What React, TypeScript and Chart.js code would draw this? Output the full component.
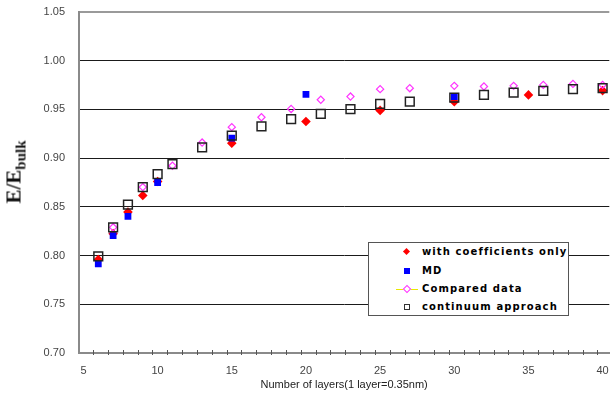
import React, { useEffect, useRef } from 'react';
import { Chart, registerables } from 'chart.js';

Chart.register(...registerables);

// ---- data ----
const coefLayers = [6, 7, 8, 9, 10, 15, 20, 25, 30, 35, 40];
const coefValues = [0.796, 0.8225, 0.8447, 0.8617, 0.8761, 0.9154, 0.9376, 0.949, 0.958, 0.9649, 0.9693];

const mdLayers = [6, 7, 8, 10, 15, 20, 30];
const mdValues = [0.7914, 0.8204, 0.8402, 0.875, 0.9205, 0.9655, 0.9632];

const comparedLayers = [7, 9, 11, 13, 15, 17, 19, 21, 23, 25, 27, 30, 32, 34, 36, 38, 40];
const comparedValues = [0.829, 0.8703, 0.8922, 0.916, 0.9318, 0.942, 0.9505, 0.9599, 0.9632, 0.9708, 0.9718, 0.9742, 0.9735, 0.9742, 0.9752, 0.9762, 0.9752];

const continuumLayers = [6, 7, 8, 9, 10, 11, 13, 15, 17, 19, 21, 23, 25, 27, 30, 32, 34, 36, 38, 40];
const continuumValues = [0.7992, 0.8289, 0.8522, 0.8703, 0.8837, 0.8939, 0.911, 0.9232, 0.9325, 0.940, 0.9455, 0.9503, 0.9557, 0.9581, 0.962, 0.9649, 0.9673, 0.969, 0.9708, 0.9718];

const seriesNames = ['with coefficients only', 'MD', 'Compared data', 'continuum approach'];
const xTitle = 'Number of layers(1 layer=0.35nm)';
const yMin = 0.7;
const yMax = 1.05;
const yStep = 0.05;
const xMin = 4.7;
const xMax = 40.45;
const xStep = 5;

const toPoints = (xs: number[], ys: number[]) => xs.map((x, i) => ({ x, y: ys[i] }));

const minorTicks = {
  id: 'minorTicks',
  afterDraw(chart: any) {
    const xs = chart.scales.x;
    const ctx = chart.ctx;
    const bottom = chart.chartArea.bottom;
    ctx.save();
    ctx.strokeStyle = '#555';
    ctx.lineWidth = 1;
    for (let v = Math.ceil(xs.min) + 0.65; v < xs.max; v += 1) {
      const px = Math.round(xs.getPixelForValue(v)) + 0.5;
      ctx.beginPath();
      ctx.moveTo(px, bottom - 3);
      ctx.lineTo(px, bottom + 2);
      ctx.stroke();
    }
    ctx.restore();
  },
};

export default function App() {
  const ref = useRef<HTMLCanvasElement>(null);

  useEffect(() => {
    document.body.style.margin = '0';
    const chart = new Chart(ref.current!, {
      type: 'scatter',
      data: {
        datasets: [
          {
            label: seriesNames[0],
            data: toPoints(coefLayers, coefValues),
            pointStyle: 'rectRot',
            pointRadius: 4.8,
            backgroundColor: '#ff0000',
            borderColor: '#ff0000',
            borderWidth: 0,
            order: 4,
          },
          {
            label: seriesNames[1],
            data: toPoints(mdLayers, mdValues),
            pointStyle: 'rect',
            pointRadius: 4.8,
            backgroundColor: '#0000ff',
            borderColor: '#0000ff',
            borderWidth: 0,
            order: 3,
          },
          {
            label: seriesNames[2],
            data: toPoints(comparedLayers, comparedValues),
            pointStyle: 'rectRot',
            pointRadius: 3.6,
            backgroundColor: 'rgba(255,255,255,0)',
            borderColor: '#ff33ff',
            borderWidth: 1.2,
            order: 2,
          },
          {
            label: seriesNames[3],
            data: toPoints(continuumLayers, continuumValues),
            pointStyle: 'rect',
            pointRadius: 6.2,
            backgroundColor: 'rgba(255,255,255,0)',
            borderColor: '#222222',
            borderWidth: 1.5,
            order: 1,
          },
        ],
      },
      options: {
        responsive: false,
        animation: false,
        layout: { padding: { top: 12, right: 0, left: 0, bottom: 0 } },
        plugins: { legend: { display: false }, tooltip: { enabled: false } },
        scales: {
          x: {
            type: 'linear',
            min: xMin,
            max: xMax,
            afterFit: (s: any) => {
              s.height = 45;
              s.paddingLeft = 0;
              s.paddingRight = 0;
            },
            ticks: {
              stepSize: xStep,
              includeBounds: false,
              color: '#444',
              font: { family: 'Liberation Sans', size: 11 },
              padding: 11,
              maxRotation: 0,
            },
            grid: { display: false, drawTicks: false },
            border: { display: true, color: '#8a8a8a', width: 2 },
            title: {
              display: true,
              text: xTitle,
              color: '#222',
              font: { family: 'Liberation Sans', size: 11 },
              padding: { top: 0, bottom: 6 },
            },
          },
          y: {
            type: 'linear',
            min: yMin,
            max: yMax,
            afterFit: (s: any) => {
              s.width = 79;
              s.paddingTop = 0;
              s.paddingBottom = 0;
            },
            ticks: {
              stepSize: yStep,
              color: '#444',
              font: { family: 'Liberation Sans', size: 11 },
              padding: 14,
              callback: (v: any) => Number(v).toFixed(2),
            },
            grid: {
              drawTicks: false,
              color: (c: any) => {
                const v = c.tick ? c.tick.value : 0;
                if (Math.abs(v - yMax) < 1e-6) return '#9a9a9a';
                if (Math.abs(v - yMin) < 1e-6) return 'rgba(0,0,0,0)';
                return '#1a1a1a';
              },
              lineWidth: (c: any) => {
                const v = c.tick ? c.tick.value : 0;
                return Math.abs(v - yMax) < 1e-6 ? 2 : 1;
              },
            },
            border: { display: true, color: '#8a8a8a', width: 2 },
          },
        },
      },
      plugins: [minorTicks],
    } as any);
    return () => chart.destroy();
  }, []);

  const legendText: React.CSSProperties = {
    position: 'absolute',
    left: 53,
    fontFamily: 'DejaVu Sans',
    fontWeight: 'bold',
    fontSize: 10,
    letterSpacing: '1.1px',
    color: '#000',
    whiteSpace: 'nowrap',
    lineHeight: '12px',
    transform: 'translateY(-50%)',
  };
  const rowTops = [9, 27.5, 45.5, 64];

  return (
    <div style={{ position: 'relative', width: 611, height: 398, background: '#fff', overflow: 'hidden' }}>
      <canvas ref={ref} width={617} height={398} style={{ position: 'absolute', left: 0, top: 0 }} />
      <div
        style={{
          position: 'absolute',
          left: 14,
          top: 172,
          transform: 'translate(-50%, -50%) rotate(-90deg)',
          fontFamily: 'Liberation Serif',
          fontWeight: 'bold',
          fontSize: 21,
          lineHeight: 1,
          whiteSpace: 'nowrap',
          color: '#111',
        }}
      >
        E/E<sub style={{ fontSize: 15, verticalAlign: '-0.3em', lineHeight: 0 }}>bulk</sub>
      </div>
      <div
        style={{
          position: 'absolute',
          left: 368,
          top: 242,
          width: 201,
          height: 74,
          border: '1px solid #555',
          background: '#fff',
          boxSizing: 'border-box',
        }}
      >
        <div style={{ position: 'absolute', left: 38 - 3, top: rowTops[0] - 3, width: 5, height: 5, background: '#ff0000', transform: 'rotate(45deg)' }} />
        <div style={{ position: 'absolute', left: 38 - 3, top: rowTops[1] - 3, width: 6, height: 6, background: '#0000ff' }} />
        <div style={{ position: 'absolute', left: 27, top: rowTops[2], width: 22, height: 1, background: '#e8e800' }} />
        <div style={{ position: 'absolute', left: 38 - 3, top: rowTops[2] - 2.5, width: 4, height: 4, border: '1px solid #ff33ff', background: '#fff', transform: 'rotate(45deg)' }} />
        <div style={{ position: 'absolute', left: 38 - 3, top: rowTops[3] - 3, width: 4, height: 4, border: '1.5px solid #333', background: '#fff' }} />
        {seriesNames.map((n, i) => (
          <div key={n} style={{ ...legendText, top: rowTops[i] }}>{n}</div>
        ))}
      </div>
    </div>
  );
}
